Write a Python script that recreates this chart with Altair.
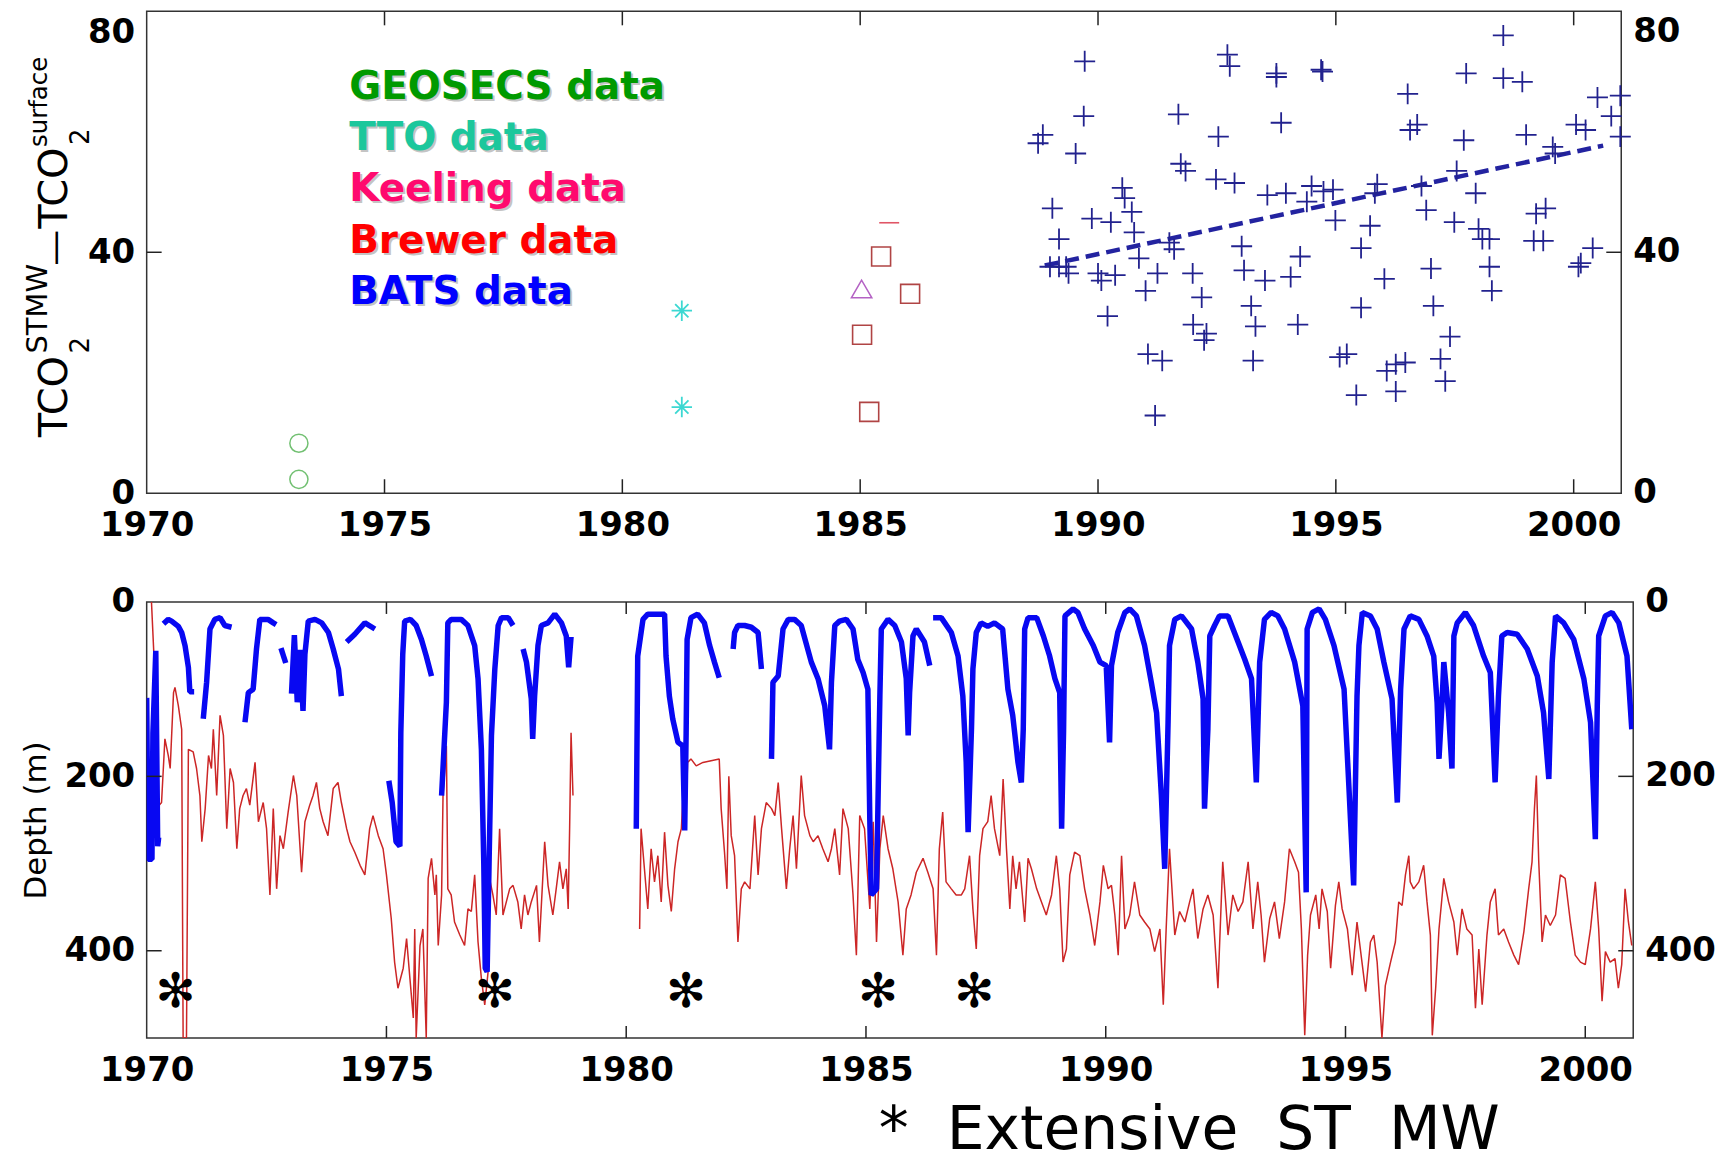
import altair as alt
import pandas as pd

FONT = "DejaVu Sans"

# ---------------- top panel data ----------------
geosecs_year = [1973.2, 1973.2]
geosecs_val = [8.3, 2.3]
tto_year = [1981.25, 1981.25]
tto_val = [30.3, 14.3]
keeling_year = [1985.03]
keeling_val = [33.9]
brewer_year = [1985.44, 1986.05, 1985.04, 1985.19]
brewer_val = [39.3, 33.1, 26.3, 13.5]
brewer_partial_year = [1985.61]
brewer_partial_val = [44.9]

bats_year = [1988.74, 1988.84, 1989.53, 1989.72, 1989.70, 1989.04, 1989.18, 1988.99, 1989.18, 1989.38,
             1989.33, 1989.87, 1990.27, 1990.00, 1990.07, 1990.36, 1990.20, 1990.51, 1990.56, 1990.71,
             1990.76, 1990.86, 1991.00, 1991.25, 1991.05, 1991.35, 1991.20, 1991.50, 1991.60, 1991.69,
             1991.74, 1991.84, 1991.99, 1992.18, 1992.00, 1992.28, 1992.23, 1992.53, 1992.48, 1992.87,
             1992.72, 1992.77, 1993.02, 1993.07, 1993.22, 1993.31, 1993.26, 1993.51, 1994.05, 1993.56,
             1993.95, 1993.75, 1993.75, 1993.85, 1994.25, 1994.20, 1994.39, 1994.49, 1994.74, 1994.94,
             1994.69, 1994.72, 1994.99, 1995.53, 1995.72, 1996.02, 1995.53, 1995.08, 1995.23, 1995.43,
             1995.87, 1995.82, 1996.07, 1996.26, 1996.46, 1996.26, 1996.51, 1996.56, 1996.71, 1996.80,
             1996.90, 1997.00, 1997.05, 1997.40, 1997.20, 1997.30, 1997.54, 1997.49, 1997.74, 1997.69,
             1997.94, 1998.00, 1998.08, 1998.23, 1998.23, 1998.28, 1998.52, 1998.52, 1998.92, 1999.00,
             1999.16, 1999.36, 1999.21, 1999.41, 1999.56, 1999.61, 2000.05, 2000.25, 2000.15, 2000.10,
             2000.40, 2000.50, 2000.79, 2000.98, 2000.98]
bats_val = [58.1, 59.5, 56.4, 71.7, 62.6, 47.3, 42.2, 37.6, 37.6, 36.5,
            37.6, 45.6, 45.0, 36.5, 35.3, 36.2, 29.4, 50.7, 49.0, 46.7,
            43.3, 39.0, 33.6, 36.5, 23.1, 22.0, 12.9, 41.6, 40.5, 62.9,
            54.7, 53.5, 36.5, 32.5, 28.0, 26.5, 25.4, 59.2, 52.1, 51.5,
            72.8, 70.9, 41.0, 37.0, 31.1, 27.7, 22.0, 35.3, 35.9, 49.5,
            49.8, 69.7, 69.1, 61.5, 39.3, 28.0, 48.4, 51.0, 50.1, 50.4,
            70.3, 70.0, 45.3, 40.7, 44.4, 35.6, 30.8, 22.6, 23.1, 16.3,
            51.3, 49.8, 20.3, 21.4, 21.7, 16.9, 66.3, 60.3, 61.2, 51.0,
            47.0, 37.3, 31.1, 26.0, 22.3, 18.6, 53.5, 45.0, 69.7, 58.6,
            49.8, 43.9, 42.2, 42.2, 37.6, 33.6, 76.0, 68.9, 68.3, 59.5,
            41.9, 41.9, 46.4, 47.3, 57.5, 56.4, 61.2, 60.3, 38.2, 37.6,
            40.7, 65.7, 62.6, 66.0, 59.2]
trend_year = [1988.88, 2000.62]
trend_val = [37.8, 57.7]

top_xtick_labels = [1970, 1975, 1980, 1985, 1990, 1995, 2000]
top_inner_xticks = [1975, 1980, 1985, 1990, 1995, 2000]
top_ytick_labels = [0, 40, 80]
top_inner_yticks = [40]

legend_labels = ["GEOSECS data", "TTO data", "Keeling data", "Brewer data", "BATS data"]
legend_colors = ["#009a00", "#1cc79c", "#ff0a6e", "#ff0000", "#0000ff"]

# ---------------- bottom panel data (None = gap) ----------------
blue_year = [1970.00, 1970.03, 1970.11, 1970.13, 1970.19, 1970.23, 1970.25, None,
             1970.35, 1970.45, 1970.52, 1970.66, 1970.73, 1970.80, 1970.87, 1970.90, 1970.99, None,
             1971.18, 1971.25, 1971.32, 1971.42, 1971.53, 1971.63, 1971.77, None,
             1972.05, 1972.12, 1972.22, 1972.29, 1972.36, 1972.53, 1972.64, 1972.70, None,
             1972.80, 1972.90, None,
             1973.02, 1973.08, 1973.14, 1973.20, 1973.26, 1973.30, 1973.37, 1973.51, 1973.65, 1973.79,
             1973.89, 1974.00, 1974.06, None,
             1974.17, 1974.34, 1974.55, 1974.76, None,
             1975.05, 1975.12, 1975.20, 1975.28, 1975.30, 1975.34, 1975.38, 1975.50, 1975.62, 1975.73,
             1975.83, 1975.94, None,
             1976.15, 1976.25, 1976.28, 1976.35, 1976.56, 1976.70, 1976.84, 1976.91, 1976.98, 1977.03,
             1977.06, 1977.10, 1977.14, 1977.19, 1977.26, 1977.33, 1977.40, 1977.54, 1977.64, None,
             1977.85, 1977.92, 1978.02, 1978.05, 1978.09, 1978.16, 1978.23, 1978.37, 1978.51, 1978.65,
             1978.75, 1978.80, 1978.85, None,
             1980.21, 1980.24, 1980.35, 1980.45, 1980.59, 1980.80, 1980.83, 1980.90, 1980.97, 1981.08,
             1981.18, 1981.22, 1981.25, 1981.27, 1981.35, 1981.49, 1981.63, 1981.74, 1981.84, 1981.94, None,
             1982.23, 1982.26, 1982.33, 1982.47, 1982.61, 1982.75, 1982.82, None,
             1983.03, 1983.06, 1983.17, 1983.27, 1983.38, 1983.51, 1983.65, 1983.86, 1984.00, 1984.14,
             1984.24, 1984.28, 1984.35, 1984.45, 1984.59, 1984.73, 1984.83, 1984.94, 1985.04, 1985.08,
             1985.11, 1985.22, 1985.26, 1985.29, 1985.32, 1985.46, 1985.60, 1985.74, 1985.84, 1985.88,
             1985.91, 1985.98, 1986.05, 1986.22, 1986.33, None,
             1986.40, 1986.57, 1986.78, 1986.92, 1987.02, 1987.09, 1987.13, 1987.20, 1987.23, 1987.30,
             1987.40, 1987.54, 1987.68, 1987.85, 1987.96, 1988.06, 1988.17, 1988.24, 1988.28, 1988.31,
             1988.38, 1988.56, 1988.70, 1988.83, 1988.94, 1989.04, 1989.08, 1989.12, 1989.15, 1989.32,
             1989.42, 1989.56, 1989.74, 1989.88, 1990.01, 1990.08, 1990.12, 1990.25, 1990.40, 1990.50,
             1990.64, 1990.81, 1990.95, 1991.06, 1991.16, 1991.23, 1991.30, 1991.33, 1991.44, 1991.58,
             1991.79, 1991.92, 1992.03, 1992.06, 1992.13, 1992.17, 1992.27, 1992.37, 1992.55, 1992.76,
             1992.90, 1993.04, 1993.14, 1993.21, 1993.31, 1993.45, 1993.59, 1993.73, 1993.94, 1994.11,
             1994.18, 1994.20, 1994.31, 1994.45, 1994.58, 1994.76, 1994.97, 1995.07, 1995.17, 1995.24,
             1995.28, 1995.35, 1995.52, 1995.66, 1995.80, 1995.97, 1996.08, 1996.15, 1996.22, 1996.35,
             1996.53, 1996.70, 1996.84, 1996.91, 1996.95, 1997.01, 1997.05, 1997.15, 1997.22, 1997.26,
             1997.33, 1997.50, 1997.67, 1997.88, 1998.02, 1998.12, 1998.19, 1998.26, 1998.37, 1998.58,
             1998.79, 1999.00, 1999.13, 1999.24, 1999.31, 1999.38, 1999.55, 1999.76, 1999.97, 2000.11,
             2000.21, 2000.25, 2000.28, 2000.42, 2000.56, 2000.70, 2000.87, 2000.97]
blue_depth = [110, 295, 295, 150, 56, 280, 270, None,
              25, 20, 22, 28, 35, 50, 75, 103, 103, None,
              134, 92, 31, 20, 18, 27, 29, None,
              138, 104, 100, 54, 20, 20, 24, 26, None,
              53, 70, None,
              105, 38, 115, 55, 125, 60, 22, 20, 24, 35,
              54, 77, 108, None,
              46, 37, 24, 31, None,
              205, 230, 275, 280, 150, 60, 22, 20, 27, 43,
              62, 85, None,
              222, 115, 24, 20, 20, 27, 50, 88, 169, 300,
              420, 424, 300, 153, 77, 27, 18, 18, 27, None,
              54, 69, 111, 157, 108, 50, 27, 24, 14, 24,
              39, 75, 40, None,
              260, 62, 20, 14, 14, 14, 62, 108, 134, 161,
              165, 262, 150, 43, 18, 14, 24, 50, 69, 87, None,
              54, 35, 27, 27, 29, 35, 77, None,
              180, 92, 85, 31, 20, 20, 27, 69, 88, 119,
              169, 92, 27, 22, 20, 31, 66, 81, 100, 250,
              336, 329, 200, 108, 31, 20, 27, 46, 88, 153,
              104, 39, 31, 46, 73, None,
              18, 18, 35, 62, 108, 184, 264, 146, 77, 35,
              24, 28, 24, 31, 100, 130, 184, 207, 146, 31,
              18, 18, 39, 62, 88, 104, 260, 150, 16, 8,
              12, 31, 50, 69, 73, 161, 73, 35, 12, 8,
              16, 50, 92, 127, 222, 306, 138, 50, 20, 16,
              31, 69, 111, 237, 146, 39, 27, 16, 16, 46,
              66, 88, 207, 69, 20, 12, 16, 31, 69, 119,
              333, 31, 12, 8, 20, 50, 100, 211, 325, 108,
              50, 12, 16, 31, 69, 111, 230, 100, 31, 16,
              20, 39, 62, 115, 180, 119, 69, 127, 191, 39,
              24, 12, 27, 62, 81, 207, 108, 39, 35, 37,
              54, 85, 127, 203, 69, 16, 24, 43, 88, 138,
              272, 120, 39, 16, 12, 24, 62, 146]

red_year = [1970.10, 1970.15, 1970.20, 1970.31, 1970.38, 1970.45, 1970.49, 1970.56, 1970.59, 1970.66,
            1970.73, 1970.76, 1970.83, 1970.87, 1970.97, 1971.04, 1971.11, 1971.15, 1971.22, 1971.29,
            1971.35, 1971.39, 1971.46, 1971.53, 1971.60, 1971.67, 1971.74, 1971.81, 1971.88, 1971.94,
            1972.01, 1972.08, 1972.15, 1972.26, 1972.33, 1972.43, 1972.50, 1972.57, 1972.64, 1972.71,
            1972.78, 1972.85, 1972.95, 1973.06, 1973.13, 1973.23, 1973.30, 1973.40, 1973.47, 1973.54,
            1973.61, 1973.68, 1973.78, 1973.89, 1973.99, 1974.06, 1974.17, 1974.24, 1974.34, 1974.45,
            1974.55, 1974.65, 1974.72, 1974.83, 1974.93, 1975.00, 1975.10, 1975.17, 1975.24, 1975.35,
            1975.42, 1975.49, 1975.56, 1975.59, 1975.62, 1975.70, 1975.76, 1975.83, 1975.87, 1975.94,
            1976.01, 1976.04, 1976.08, 1976.15, 1976.18, 1976.25, 1976.28, 1976.35, 1976.42, 1976.53,
            1976.63, 1976.70, 1976.77, 1976.84, 1976.91, 1976.98, 1977.05, 1977.12, 1977.15, 1977.22,
            1977.29, 1977.36, 1977.43, 1977.50, 1977.57, 1977.64, 1977.74, 1977.81, 1977.88, 1977.95,
            1978.02, 1978.13, 1978.19, 1978.26, 1978.30, 1978.37, 1978.47, 1978.54, 1978.61, 1978.68,
            1978.75, 1978.79, 1978.82, 1978.85, 1978.89, None,
            1980.28, 1980.31, 1980.38, 1980.45, 1980.52, 1980.59, 1980.66, 1980.73, 1980.80, 1980.87,
            1980.94, 1981.01, 1981.08, 1981.15, 1981.22, 1981.25, 1981.28, 1981.35, 1981.46, 1981.60,
            1981.77, 1981.94, 1981.98, 1982.05, 1982.10, 1982.14, 1982.19, 1982.26, 1982.33, 1982.40,
            1982.47, 1982.58, 1982.68, 1982.75, 1982.82, 1982.92, 1983.03, 1983.10, 1983.17, 1983.24,
            1983.34, 1983.41, 1983.48, 1983.55, 1983.65, 1983.72, 1983.83, 1983.90, 1984.00, 1984.10,
            1984.21, 1984.28, 1984.35, 1984.45, 1984.52, 1984.63, 1984.73, 1984.80, 1984.87, 1984.97,
            1985.08, 1985.15, 1985.22, 1985.29, 1985.36, 1985.46, 1985.56, 1985.67, 1985.77, 1985.84,
            1985.94, 1986.05, 1986.19, 1986.29, 1986.40, 1986.47, 1986.53, 1986.60, 1986.67, 1986.78,
            1986.88, 1986.99, 1987.06, 1987.16, 1987.23, 1987.30, 1987.37, 1987.44, 1987.54, 1987.61,
            1987.68, 1987.79, 1987.86, 1987.93, 1988.00, 1988.06, 1988.13, 1988.20, 1988.31, 1988.38,
            1988.45, 1988.56, 1988.66, 1988.76, 1988.87, 1988.97, 1989.04, 1989.11, 1989.18, 1989.25,
            1989.35, 1989.46, 1989.56, 1989.67, 1989.77, 1989.88, 1989.95, 1990.05, 1990.12, 1990.19,
            1990.26, 1990.33, 1990.40, 1990.50, 1990.60, 1990.71, 1990.81, 1990.92, 1991.02, 1991.13,
            1991.20, 1991.26, 1991.33, 1991.44, 1991.54, 1991.65, 1991.75, 1991.82, 1991.92, 1992.03,
            1992.13, 1992.24, 1992.34, 1992.44, 1992.55, 1992.65, 1992.76, 1992.86, 1992.97, 1993.07,
            1993.17, 1993.24, 1993.31, 1993.42, 1993.52, 1993.62, 1993.73, 1993.83, 1993.94, 1994.02,
            1994.08, 1994.15, 1994.21, 1994.27, 1994.38, 1994.45, 1994.51, 1994.62, 1994.69, 1994.79,
            1994.86, 1994.93, 1995.04, 1995.14, 1995.24, 1995.35, 1995.42, 1995.52, 1995.59, 1995.66,
            1995.76, 1995.83, 1995.94, 1996.04, 1996.11, 1996.18, 1996.25, 1996.32, 1996.35, 1996.42,
            1996.53, 1996.63, 1996.70, 1996.77, 1996.81, 1996.88, 1996.95, 1997.05, 1997.15, 1997.26,
            1997.33, 1997.43, 1997.53, 1997.64, 1997.71, 1997.78, 1997.85, 1997.95, 1998.02, 1998.12,
            1998.19, 1998.30, 1998.40, 1998.51, 1998.61, 1998.72, 1998.82, 1998.89, 1998.94, 1998.98,
            1999.03, 1999.10, 1999.17, 1999.27, 1999.38, 1999.48, 1999.58, 1999.69, 1999.79, 1999.90,
            2000.00, 2000.11, 2000.21, 2000.28, 2000.35, 2000.42, 2000.52, 2000.62, 2000.69, 2000.76,
            2000.83, 2000.90, 2000.97]
red_depth = [0, 60, 237, 230, 157, 176, 191, 104, 98, 119,
             146, 500, 500, 169, 172, 191, 222, 275, 237, 176,
             191, 146, 222, 130, 153, 260, 191, 207, 283, 237,
             222, 214, 233, 184, 252, 230, 260, 336, 237, 329,
             268, 283, 241, 199, 222, 310, 252, 233, 222, 207,
             237, 252, 268, 214, 207, 230, 260, 275, 287, 302,
             313, 260, 245, 268, 283, 313, 363, 413, 443, 420,
             386, 432, 477, 375, 500, 394, 375, 500, 317, 294,
             336, 313, 394, 336, 222, 165, 329, 336, 367, 382,
             394, 352, 355, 313, 390, 432, 462, 424, 317, 336,
             359, 260, 359, 344, 329, 325, 344, 375, 336, 359,
             344, 325, 390, 317, 275, 325, 359, 329, 298, 329,
             306, 352, 260, 150, 222, None,
             375, 260, 306, 352, 283, 321, 291, 344, 264, 325,
             355, 306, 275, 260, 184, 237, 184, 180, 188, 184,
             182, 180, 237, 287, 329, 200, 268, 291, 390, 329,
             321, 329, 245, 313, 260, 230, 237, 245, 207, 260,
             329, 283, 245, 306, 199, 245, 268, 275, 268, 283,
             298, 283, 260, 313, 237, 260, 336, 405, 245, 260,
             352, 252, 390, 283, 245, 283, 306, 344, 405, 352,
             336, 310, 294, 310, 329, 405, 283, 241, 321, 329,
             336, 336, 329, 291, 352, 398, 291, 260, 252, 222,
             260, 291, 203, 283, 352, 291, 329, 298, 367, 294,
             306, 329, 344, 359, 336, 291, 329, 413, 398, 313,
             287, 291, 329, 359, 394, 344, 302, 329, 325, 359,
             405, 291, 375, 359, 321, 359, 367, 375, 401, 375,
             462, 375, 283, 382, 355, 367, 344, 329, 386, 352,
             336, 359, 443, 298, 382, 336, 355, 344, 298, 375,
             321, 359, 413, 363, 344, 386, 344, 283, 298, 310,
             375, 497, 405, 359, 336, 375, 329, 355, 420, 348,
             321, 352, 375, 428, 367, 416, 447, 390, 382, 413,
             500, 440, 413, 390, 344, 348, 313, 291, 321, 329,
             321, 302, 344, 382, 497, 443, 375, 317, 344, 367,
             405, 352, 375, 382, 466, 398, 462, 382, 344, 329,
             382, 375, 390, 405, 416, 378, 329, 298, 237, 199,
             298, 390, 359, 371, 359, 313, 317, 367, 405, 413,
             416, 375, 321, 375, 458, 401, 413, 409, 443, 416,
             329, 367, 394]

star_year = [1970.6, 1977.26, 1981.25, 1985.25, 1987.26]
star_depth = [448, 448, 448, 448, 448]

bottom_xtick_labels = [1970, 1975, 1980, 1985, 1990, 1995, 2000]
bottom_inner_xticks = [1975, 1980, 1985, 1990, 1995, 2000]
bottom_ytick_labels = [0, 200, 400]
bottom_inner_yticks = [200, 400]

footnote = "*\u00a0 Extensive\u00a0 ST\u00a0 MW"


def segments(xs, ys, xname, yname):
    rows, seg = [], 0
    for a, b in zip(xs, ys):
        if a is None or b is None:
            seg += 1
            continue
        rows.append({xname: a, yname: b, "seg": seg})
    return pd.DataFrame(rows)


ONE = pd.DataFrame({"k": [0]})
LABEL_FS = 34
LABEL_W = "bold"
LEFT_EXTENT = 138  # pixels kept free to the left of both plot areas

# ---------------- top chart ----------------
TW, TH = 1478, 483
tx_scale = alt.Scale(domain=[1970, 2001], nice=False, zero=False)
ty_scale = alt.Scale(domain=[0, 80], nice=False, zero=False)
tx_axis = alt.Axis(values=top_xtick_labels, format="d", title=None, tickSize=0, domain=False, grid=False,
                   labelFlush=False, labelOverlap=False, labelPadding=15, labelFontSize=LABEL_FS, labelFont=FONT,
                   labelFontWeight=LABEL_W, labelColor="black")
ty_axis = alt.Axis(values=top_ytick_labels, format="d", title=None, tickSize=0, domain=False, grid=False,
                   labelPadding=12, labelFontSize=LABEL_FS, labelFont=FONT, labelFontWeight=LABEL_W,
                   labelColor="black",
                   labelOffset={"condition": {"test": "datum.value == 80", "value": 21}, "value": 0})
TX = alt.X("year:Q", scale=tx_scale, axis=tx_axis)
TY = alt.Y("val:Q", scale=ty_scale, axis=ty_axis)

plus_path = "M-1,0L1,0M0,-1L0,1"
star_path = "M-1,0L1,0M0,-1L0,1M-0.65,-0.65L0.65,0.65M-0.65,0.65L0.65,-0.65"
dash_path = "M-1,0L1,0"

top_layers = []
top_layers.append(alt.Chart(ONE).mark_rule(color="white", opacity=0, strokeWidth=1).encode(
    x=alt.value(-LEFT_EXTENT), y=alt.value(0), y2=alt.value(TH + 60)))
top_layers.append(alt.Chart(pd.DataFrame({"year": trend_year, "val": trend_val})).mark_line(
    color="#2323a0", strokeWidth=4.5, strokeDash=[14, 7]).encode(x=TX, y=TY))
top_layers.append(alt.Chart(pd.DataFrame({"year": bats_year, "val": bats_val})).mark_point(
    shape=plus_path, size=441, filled=False, strokeWidth=1.8, color="#22228e", opacity=1).encode(x=TX, y=TY))
top_layers.append(alt.Chart(pd.DataFrame({"year": geosecs_year, "val": geosecs_val})).mark_point(
    shape="circle", size=330, filled=False, strokeWidth=1.5, color="#72c072", opacity=1).encode(x=TX, y=TY))
top_layers.append(alt.Chart(pd.DataFrame({"year": tto_year, "val": tto_val})).mark_point(
    shape=star_path, size=420, filled=False, strokeWidth=1.8, color="#3cd8d2", opacity=1).encode(x=TX, y=TY))
top_layers.append(alt.Chart(pd.DataFrame({"year": keeling_year, "val": keeling_val})).mark_point(
    shape="triangle-up", size=420, filled=False, strokeWidth=1.5, color="#b462c4", opacity=1).encode(x=TX, y=TY))
top_layers.append(alt.Chart(pd.DataFrame({"year": brewer_year, "val": brewer_val})).mark_point(
    shape="square", size=361, filled=False, strokeWidth=1.6, color="#b04444", opacity=1).encode(x=TX, y=TY))
top_layers.append(alt.Chart(pd.DataFrame({"year": brewer_partial_year, "val": brewer_partial_val})).mark_point(
    shape=dash_path, size=400, filled=False, strokeWidth=1.6, color="#e05566", opacity=1).encode(x=TX, y=TY))
# inward ticks
tticks_x = pd.DataFrame({"year": top_inner_xticks})
top_layers.append(alt.Chart(tticks_x).mark_rule(color="#222", strokeWidth=1.5).encode(
    x=TX, y=alt.value(0), y2=alt.value(14)))
top_layers.append(alt.Chart(tticks_x).mark_rule(color="#222", strokeWidth=1.5).encode(
    x=TX, y=alt.value(TH), y2=alt.value(TH - 14)))
tticks_y = pd.DataFrame({"val": top_inner_yticks})
top_layers.append(alt.Chart(tticks_y).mark_rule(color="#222", strokeWidth=1.5).encode(
    y=TY, x=alt.value(0), x2=alt.value(15)))
top_layers.append(alt.Chart(tticks_y).mark_rule(color="#222", strokeWidth=1.5).encode(
    y=TY, x=alt.value(TW), x2=alt.value(TW - 15)))
# right labels
rl = pd.DataFrame({"val": top_ytick_labels, "lab": [str(v) for v in top_ytick_labels]})
top_layers.append(alt.Chart(rl[rl.val < 80]).mark_text(
    align="left", baseline="middle", fontSize=LABEL_FS, font=FONT, fontWeight=LABEL_W, color="black").encode(
    x=alt.value(TW + 12), y=TY, text="lab:N"))
top_layers.append(alt.Chart(rl[rl.val == 80]).mark_text(
    align="left", baseline="middle", fontSize=LABEL_FS, font=FONT, fontWeight=LABEL_W, color="black",
    dy=21).encode(x=alt.value(TW + 12), y=TY, text="lab:N"))
# legend texts
for i, (lab, col) in enumerate(zip(legend_labels, legend_colors)):
    ybase = 88 + i * 51.3
    df = pd.DataFrame({"t": [lab]})
    top_layers.append(alt.Chart(df).mark_text(
        align="left", baseline="alphabetic", fontSize=39, font=FONT, fontWeight="bold",
        color="#c4c4c4", dx=2, dy=2).encode(x=alt.value(203), y=alt.value(ybase), text="t:N"))
    top_layers.append(alt.Chart(df).mark_text(
        align="left", baseline="alphabetic", fontSize=39, font=FONT, fontWeight="bold",
        color=col).encode(x=alt.value(203), y=alt.value(ybase), text="t:N"))
# y-axis title built from pieces (rotated)
title_pieces = [("TCO", -80, 427, 40), ("2", -58, 343, 26), ("STMW", -100, 343, 29),
                ("\u2014", -80, 255, 36), ("TCO", -80, 218, 40), ("2", -58, 134, 26),
                ("surface", -100, 136, 24.5)]
for s, x, y, fs in title_pieces:
    top_layers.append(alt.Chart(pd.DataFrame({"t": [s]})).mark_text(
        align="left", baseline="alphabetic", angle=270, fontSize=fs, font=FONT, color="black").encode(
        x=alt.value(x), y=alt.value(y), text="t:N"))

top = alt.layer(*top_layers).properties(width=TW, height=TH)

# ---------------- bottom chart ----------------
BW, BH = 1490, 437
bx_scale = alt.Scale(domain=[1970, 2001], nice=False, zero=False)
by_scale = alt.Scale(domain=[0, 500], nice=False, zero=False, reverse=True)
bx_axis = alt.Axis(values=bottom_xtick_labels, format="d", title=None, tickSize=0, domain=False, grid=False,
                   labelFlush=False, labelOverlap=False, labelPadding=16, labelFontSize=LABEL_FS, labelFont=FONT,
                   labelFontWeight=LABEL_W, labelColor="black")
by_axis = alt.Axis(values=bottom_ytick_labels, format="d", title=None, tickSize=0, domain=False, grid=False,
                   labelPadding=12, labelFontSize=LABEL_FS, labelFont=FONT, labelFontWeight=LABEL_W,
                   labelColor="black")
BX = alt.X("year:Q", scale=bx_scale, axis=bx_axis)
BY = alt.Y("depth:Q", scale=by_scale, axis=by_axis)

red_df = segments(red_year, red_depth, "year", "depth")
blue_df = segments(blue_year, blue_depth, "year", "depth")

bot_layers = []
bot_layers.append(alt.Chart(ONE).mark_rule(color="white", opacity=0, strokeWidth=1).encode(
    x=alt.value(-LEFT_EXTENT), y=alt.value(-10), y2=alt.value(10)))
bot_layers.append(alt.Chart(red_df).mark_line(color="#cc2626", strokeWidth=1.5, clip=True,
                                              strokeJoin="bevel").encode(x=BX, y=BY, detail="seg:N"))
bot_layers.append(alt.Chart(blue_df).mark_line(color="#0808f2", strokeWidth=5.5, clip=True,
                                               strokeJoin="bevel").encode(x=BX, y=BY, detail="seg:N"))
bot_layers.append(alt.Chart(pd.DataFrame({"year": star_year, "depth": star_depth})).mark_text(
    text="\u273b", fontSize=48, font=FONT, color="black", align="center", baseline="middle").encode(
    x=BX, y=BY))
bticks_x = pd.DataFrame({"year": bottom_inner_xticks})
bot_layers.append(alt.Chart(bticks_x).mark_rule(color="#222", strokeWidth=1.5).encode(
    x=BX, y=alt.value(0), y2=alt.value(12)))
bot_layers.append(alt.Chart(bticks_x).mark_rule(color="#222", strokeWidth=1.5).encode(
    x=BX, y=alt.value(BH), y2=alt.value(BH - 12)))
bticks_y = pd.DataFrame({"depth": bottom_inner_yticks})
bot_layers.append(alt.Chart(bticks_y).mark_rule(color="#222", strokeWidth=1.5).encode(
    y=BY, x=alt.value(0), x2=alt.value(15)))
bot_layers.append(alt.Chart(bticks_y).mark_rule(color="#222", strokeWidth=1.5).encode(
    y=BY, x=alt.value(BW), x2=alt.value(BW - 15)))
brl = pd.DataFrame({"depth": bottom_ytick_labels, "lab": [str(v) for v in bottom_ytick_labels]})
bot_layers.append(alt.Chart(brl).mark_text(
    align="left", baseline="middle", fontSize=LABEL_FS, font=FONT, fontWeight=LABEL_W, color="black").encode(
    x=alt.value(BW + 12), y=BY, text="lab:N"))
bot_layers.append(alt.Chart(pd.DataFrame({"t": ["Depth (m)"]})).mark_text(
    align="center", baseline="alphabetic", angle=270, fontSize=31, font=FONT, color="black").encode(
    x=alt.value(-101), y=alt.value(219), text="t:N"))
bot_layers.append(alt.Chart(pd.DataFrame({"t": [footnote]})).mark_text(
    align="center", baseline="alphabetic", fontSize=60, font=FONT, color="black").encode(
    x=alt.value(1045), y=alt.value(548), text="t:N"))

bottom = alt.layer(*bot_layers).properties(width=BW, height=BH)

chart = alt.vconcat(top, bottom, spacing=30).properties(
    padding={"left": 0, "top": 0, "right": 10, "bottom": 0}
).configure_view(stroke="#333333", strokeWidth=1.5)

chart.save("out.html", embed_options={"renderer": "svg", "actions": False})
